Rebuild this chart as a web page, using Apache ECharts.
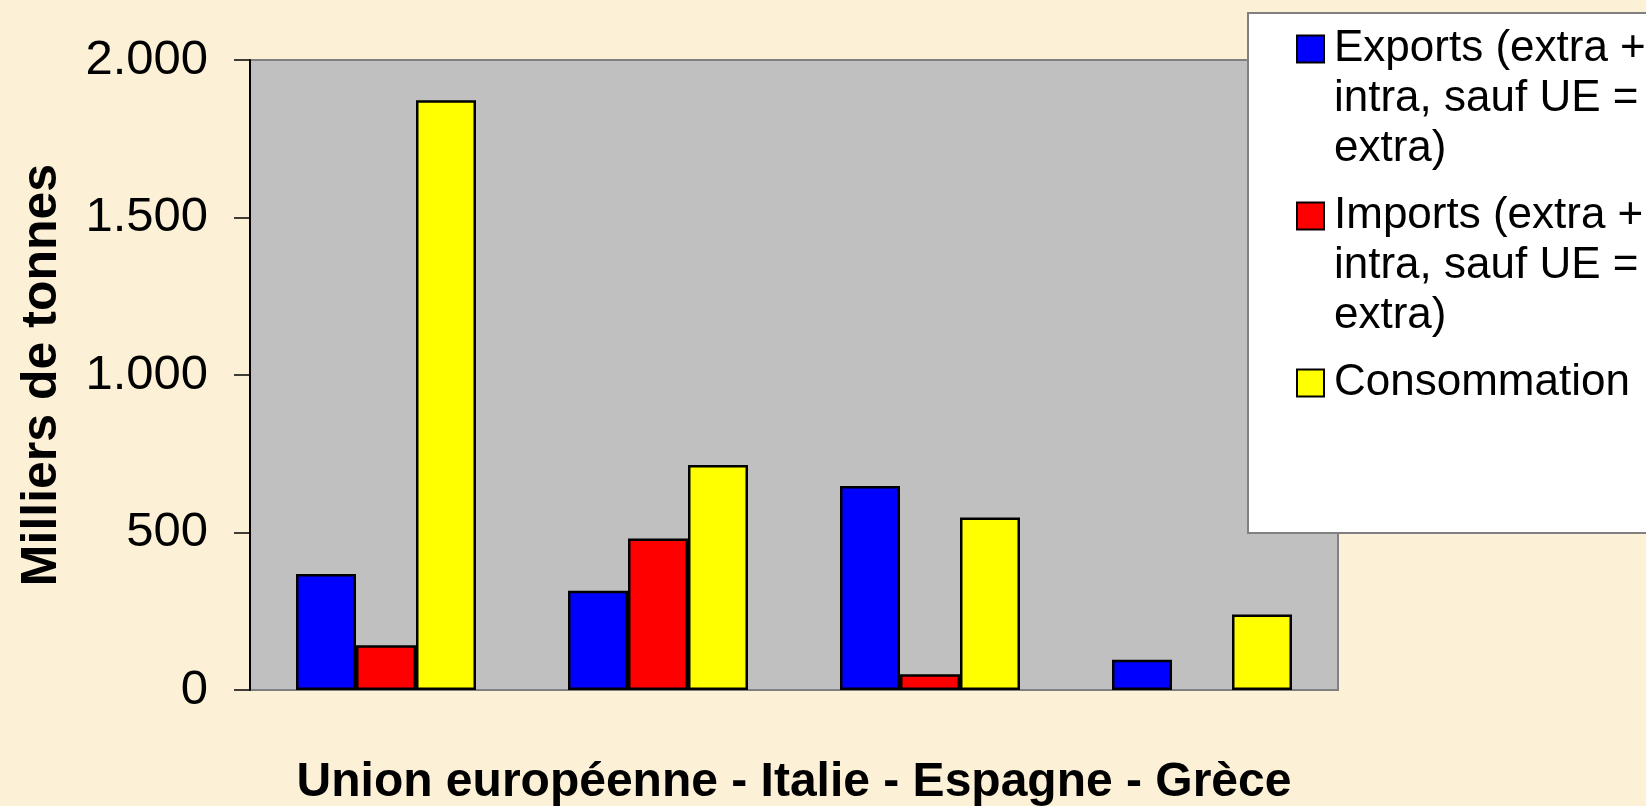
<!DOCTYPE html>
<html>
<head>
<meta charset="utf-8">
<title>Milliers de tonnes</title>
<script src="https://cdn.jsdelivr.net/npm/echarts@6/dist/echarts.min.js"></script>
<style>
  html, body { margin: 0; padding: 0; background: #fcf0d6; }
  #chart { width: 1646px; height: 806px; }
</style>
</head>
<body>
<div id="chart"></div>
<script>
const categories = ['Union européenne', 'Italie', 'Espagne', 'Grèce']
const exportsData = [368, 315, 648, 96]
const importsData = [142, 481, 50, '-']
const consommationData = [1872, 714, 548, 240]
const seriesNames = [
  'Exports (extra + intra, sauf UE = extra)',
  'Imports (extra + intra, sauf UE = extra)',
  'Consommation',
]
// two blank lines before and after keep the icon on the first text line
const legendLabels = [
  '\n\nExports (extra +\nintra, sauf UE =\nextra)',
  '\n\nImports (extra +\nintra, sauf UE =\nextra)',
  '\n\nConsommation\n\n',
]
const yTicks = { min: 0, max: 2000, interval: 500 }

const font = '"Liberation Sans", Arial, sans-serif'
const chart = echarts.init(document.getElementById('chart'))

function bar(name, data, color) {
  return {
    name: name,
    type: 'bar',
    data: data,
    barWidth: 60,
    barGap: '0%',
    itemStyle: { color: color, borderColor: '#000', borderWidth: 2.5 },
  }
}

chart.setOption({
  backgroundColor: '#fcf0d6',
  animation: false,
  grid: {
    left: 250,
    right: 308,
    top: 60,
    bottom: 116,
    outerBoundsMode: 'none',
    containLabel: false,
    show: true,
    backgroundColor: '#c0c0c0',
    borderColor: '#808080',
    borderWidth: 2,
  },
  graphic: [
    {
      type: 'rect',
      shape: { x: 1248, y: 13, width: 420, height: 520 },
      style: { fill: '#fff', stroke: '#808080', lineWidth: 2 },
      z: 3,
    },
  ],
  legend: {
    orient: 'vertical',
    left: 1296,
    top: -76,
    padding: 0,
    z: 5,
    itemWidth: 27,
    itemHeight: 27,
    itemGap: -83,
    icon: 'rect',
    itemStyle: { borderColor: '#000', borderWidth: 2 },
    textStyle: {
      fontFamily: font,
      fontSize: 44,
      color: '#000',
      lineHeight: 50,
      padding: [0, 0, 0, 5],
    },
    formatter: (name) => legendLabels[seriesNames.indexOf(name)],
    data: seriesNames,
  },
  xAxis: {
    type: 'category',
    data: categories,
    axisLine: { show: false },
    axisTick: { show: false },
    axisLabel: { show: false },
    name: 'Union européenne - Italie - Espagne - Grèce',
    nameLocation: 'middle',
    nameGap: 69,
    nameTextStyle: { fontFamily: font, fontSize: 48, fontWeight: 'bold', color: '#000' },
  },
  yAxis: {
    type: 'value',
    min: yTicks.min,
    max: yTicks.max,
    interval: yTicks.interval,
    splitLine: { show: false },
    axisLine: { show: true, lineStyle: { color: '#000', width: 2 } },
    axisTick: { show: true, length: 16, lineStyle: { color: '#000', width: 1.5 } },
    axisLabel: {
      margin: 42,
      fontFamily: font,
      fontSize: 49,
      color: '#000',
      formatter: (v) => v.toLocaleString('de-DE'),
    },
    name: 'Milliers de tonnes',
    nameLocation: 'middle',
    nameGap: 183,
    nameTextStyle: { fontFamily: font, fontSize: 50, fontWeight: 'bold', color: '#000' },
  },
  series: [
    bar(seriesNames[0], exportsData, '#0000ff'),
    bar(seriesNames[1], importsData, '#ff0000'),
    bar(seriesNames[2], consommationData, '#ffff00'),
  ],
})
</script>
</body>
</html>
